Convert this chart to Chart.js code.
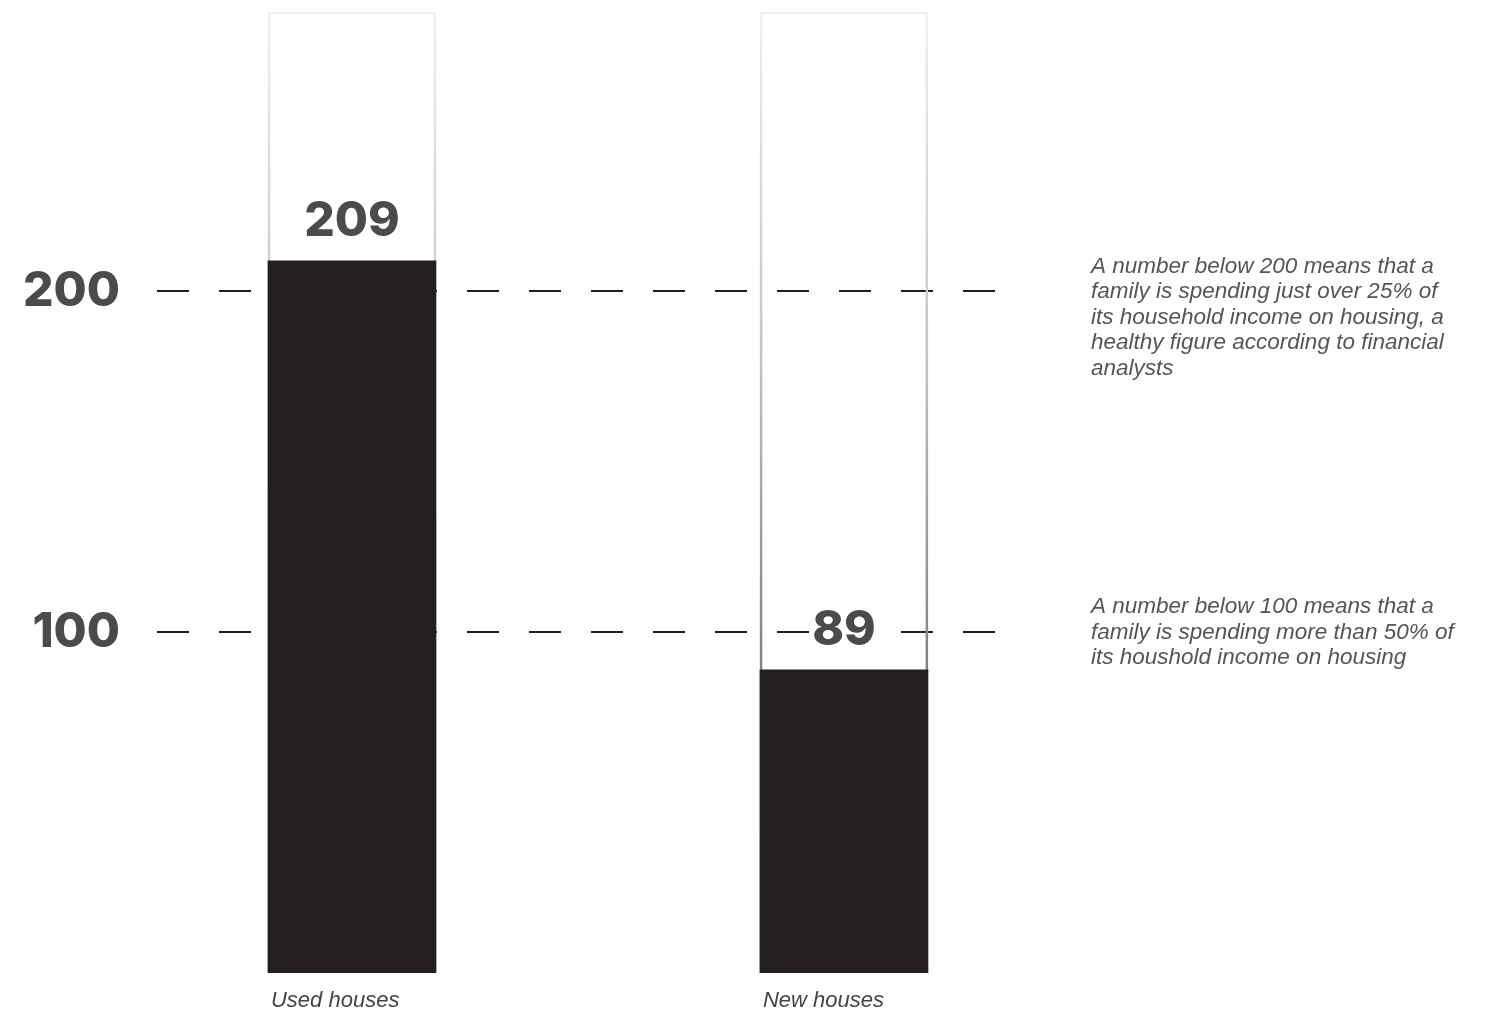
<!DOCTYPE html>
<html>
<head>
<meta charset="utf-8">
<script src="https://cdn.jsdelivr.net/npm/chart.js@4/dist/chart.umd.min.js"></script>
<style>
  html, body { margin: 0; padding: 0; background: #fff; }
  canvas { display: block; }
</style>
</head>
<body>
<canvas id="g-vivienda" width="1503" height="1011"></canvas>
<script>
// datos
const categorias = ['Used houses', 'New houses'];
const valores = [209, 89];
const capacidad = [282, 282]; // tope del "termometro"
const referencias = [100, 200];
const notas = [
    ['A number below 100 means that a', 'family is spending more than 50% of', 'its houshold income on housing'],
    ['A number below 200 means that a', 'family is spending just over 25% of', 'its household income on housing, a', 'healthy figure according to financial', 'analysts']
];

const fuente = '"Liberation Sans", Arial, Helvetica, sans-serif';
const fuenteNum = 'Inter, "Liberation Sans", Arial, sans-serif';
const negro = '#231f20';

// numeros, nombres de categoria y notas
const textos = {
    id: 'textos',
    afterDatasetsDraw(chart) {
        const ctx = chart.ctx;
        const area = chart.chartArea;
        const meta = chart.getDatasetMeta(1);
        ctx.save();
        meta.data.forEach((bar, i) => {
            ctx.font = `800 48px ${fuenteNum}`;
            ctx.textAlign = 'center';
            ctx.textBaseline = 'alphabetic';
            // borde blanco para que la linea de referencia no tape el numero
            ctx.strokeStyle = '#fff';
            ctx.lineWidth = 8;
            ctx.lineJoin = 'round';
            ctx.strokeText(String(valores[i]), bar.x, bar.y - 25);
            ctx.fillStyle = '#4d4a4b';
            ctx.fillText(String(valores[i]), bar.x, bar.y - 25);

            ctx.fillStyle = '#444';
            ctx.font = `italic 22px ${fuente}`;
            ctx.textAlign = 'left';
            ctx.textBaseline = 'middle';
            ctx.fillText(categorias[i], bar.x - bar.width / 2 + 3, area.bottom + 28);
        });

        const y = chart.scales.y;
        ctx.fillStyle = '#555';
        ctx.font = `italic 22.5px ${fuente}`;
        ctx.textAlign = 'left';
        ctx.textBaseline = 'middle';
        referencias.forEach((ref, i) => {
            const y0 = y.getPixelForValue(ref) - 25;
            notas[i].forEach((linea, j) => {
                ctx.fillText(linea, area.right + 96, y0 + j * 25.5);
            });
        });
        ctx.restore();
    }
};

function bordeGris(c) {
    const area = c.chart.chartArea;
    if (!area) return '#bbb';
    const g = c.chart.ctx.createLinearGradient(0, area.top, 0, area.bottom);
    g.addColorStop(0, '#f0f0f0');
    g.addColorStop(0.35, '#c4c4c4');
    g.addColorStop(0.7, '#7d7d7d');
    g.addColorStop(1, '#666');
    return g;
}

const ctx = document.getElementById('g-vivienda').getContext('2d');
new Chart(ctx, {
    type: 'bar',
    data: {
        datasets: [
            {
                data: capacidad.map((v, i) => ({ x: i, y: v })),
                backgroundColor: 'rgba(0,0,0,0)',
                borderColor: bordeGris,
                borderWidth: 2,
                barThickness: 168,
                grouped: false,
                order: 2
            },
            {
                data: valores.map((v, i) => ({ x: i, y: v })),
                backgroundColor: negro,
                borderWidth: 0,
                barThickness: 168,
                grouped: false,
                order: 1
            }
        ]
    },
    options: {
        responsive: false,
        animation: false,
        layout: { padding: { left: 0, right: 508, top: 12, bottom: 38 } },
        plugins: {
            legend: { display: false },
            tooltip: { enabled: false }
        },
        scales: {
            x: {
                type: 'linear',
                display: false,
                offset: false,
                min: -0.3963,
                max: 1.307
            },
            y: {
                min: 0,
                max: 282,
                afterBuildTicks: (axis) => {
                    axis.ticks = referencias.map(v => ({ value: v }));
                },
                afterFit: (scale) => {
                    scale.width = 157;
                    scale.paddingTop = 0;
                    scale.paddingBottom = 0;
                },
                grid: {
                    color: negro,
                    lineWidth: 2,
                    drawTicks: false
                },
                border: { display: false, dash: [32, 30] },
                ticks: {
                    color: '#4d4a4b',
                    padding: 37,
                    font: { family: fuenteNum, size: 48, weight: 800 }
                }
            }
        }
    },
    plugins: [textos]
});
</script>
</body>
</html>
